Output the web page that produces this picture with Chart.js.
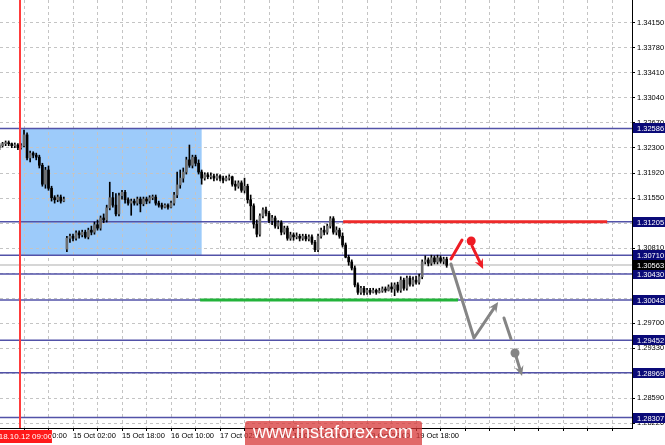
<!DOCTYPE html>
<html>
<head>
<meta charset="utf-8">
<script src="https://cdn.jsdelivr.net/npm/chart.js@4.4.1/dist/chart.umd.min.js"></script>
<style>
  html, body { margin: 0; padding: 0; background: #fff; }
  canvas { display: block; }
</style>
</head>
<body>
<canvas id="chart" width="665" height="445"></canvas>
<script>
// GBP/USD H1 bars, one per hour
const opens = [
  1.3230,1.3233,1.3236,1.3237,1.3236,1.3233,1.3234,1.3230,1.3233,1.3249,
  1.3215,1.3222,1.3219,1.3216,1.3204,1.3176,1.3197,1.3170,1.3156,1.3153,
  1.3157,1.3151,1.3080,1.3096,1.3099,1.3096,1.3104,1.3101,1.3105,1.3098,
  1.3108,1.3105,1.3116,1.3111,1.3126,1.3123,1.3141,1.3156,1.3145,1.3132,
  1.3159,1.3164,1.3153,1.3148,1.3151,1.3148,1.3154,1.3147,1.3154,1.3151,
  1.3156,1.3157,1.3148,1.3145,1.3142,1.3145,1.3142,1.3148,1.3160,1.3175,
  1.3185,1.3194,1.3212,1.3204,1.3216,1.3207,1.3194,1.3185,1.3190,1.3187,
  1.3188,1.3185,1.3188,1.3185,1.3182,1.3185,1.3187,1.3176,1.3173,1.3178,
  1.3167,1.3173,1.3153,1.3144,1.3117,1.3102,1.3129,1.3138,1.3133,1.3122,
  1.3126,1.3114,1.3119,1.3105,1.3111,1.3096,1.3101,1.3098,1.3099,1.3096,
  1.3099,1.3095,1.3098,1.3090,1.3079,1.3099,1.3108,1.3105,1.3114,1.3125,
  1.3105,1.3108,1.3099,1.3086,1.3068,1.3061,1.3052,1.3027,1.3016,1.3022,
  1.3016,1.3019,1.3016,1.3019,1.3016,1.3018,1.3021,1.3019,1.3024,1.3021,
  1.3027,1.3019,1.3034,1.3022,1.3037,1.3028,1.3034,1.3031,1.3039,1.3061,
  1.3064,1.3059,1.3067,1.3061,1.3067,1.3062,1.3065
];
const highs = [
  1.3236,1.3238,1.3240,1.3240,1.3237,1.3237,1.3236,1.3236,1.3256,1.3252,
  1.3225,1.3224,1.3222,1.3219,1.3207,1.3201,1.3203,1.3173,1.3159,1.3160,
  1.3160,1.3157,1.3099,1.3102,1.3102,1.3107,1.3107,1.3108,1.3108,1.3111,
  1.3114,1.3120,1.3123,1.3129,1.3132,1.3145,1.3179,1.3164,1.3162,1.3163,
  1.3167,1.3167,1.3156,1.3154,1.3154,1.3157,1.3157,1.3157,1.3157,1.3159,
  1.3160,1.3160,1.3151,1.3148,1.3147,1.3147,1.3151,1.3164,1.3194,1.3197,
  1.3200,1.3216,1.3234,1.3219,1.3219,1.3212,1.3197,1.3193,1.3193,1.3193,
  1.3191,1.3191,1.3190,1.3188,1.3188,1.3190,1.3188,1.3181,1.3181,1.3181,
  1.3185,1.3176,1.3160,1.3147,1.3123,1.3132,1.3141,1.3142,1.3136,1.3130,
  1.3129,1.3122,1.3122,1.3114,1.3114,1.3105,1.3104,1.3104,1.3102,1.3102,
  1.3102,1.3101,1.3101,1.3093,1.3102,1.3111,1.3114,1.3117,1.3128,1.3128,
  1.3113,1.3111,1.3104,1.3089,1.3071,1.3064,1.3055,1.3030,1.3025,1.3025,
  1.3022,1.3022,1.3022,1.3021,1.3022,1.3024,1.3024,1.3027,1.3030,1.3030,
  1.3031,1.3039,1.3037,1.3040,1.3040,1.3039,1.3040,1.3043,1.3064,1.3070,
  1.3067,1.3071,1.3070,1.3071,1.3070,1.3068,1.3068
];
const lows = [
  1.3227,1.3231,1.3233,1.3233,1.3230,1.3230,1.3227,1.3228,1.3231,1.3212,
  1.3209,1.3215,1.3212,1.3200,1.3173,1.3170,1.3167,1.3151,1.3148,1.3150,
  1.3148,1.3150,1.3076,1.3090,1.3092,1.3093,1.3096,1.3098,1.3096,1.3095,
  1.3101,1.3102,1.3108,1.3108,1.3119,1.3120,1.3138,1.3142,1.3129,1.3129,
  1.3154,1.3148,1.3145,1.3130,1.3145,1.3145,1.3135,1.3144,1.3147,1.3148,
  1.3153,1.3145,1.3142,1.3139,1.3141,1.3139,1.3141,1.3145,1.3156,1.3170,
  1.3179,1.3191,1.3201,1.3200,1.3203,1.3191,1.3176,1.3182,1.3184,1.3184,
  1.3181,1.3182,1.3181,1.3178,1.3181,1.3182,1.3173,1.3167,1.3170,1.3164,
  1.3163,1.3148,1.3123,1.3111,1.3098,1.3099,1.3126,1.3129,1.3119,1.3116,
  1.3111,1.3110,1.3101,1.3102,1.3093,1.3093,1.3093,1.3095,1.3092,1.3093,
  1.3092,1.3092,1.3087,1.3076,1.3076,1.3096,1.3101,1.3102,1.3111,1.3102,
  1.3101,1.3096,1.3083,1.3067,1.3056,1.3049,1.3024,1.3013,1.3013,1.3012,
  1.3013,1.3013,1.3015,1.3013,1.3015,1.3016,1.3016,1.3018,1.3016,1.3011,
  1.3016,1.3016,1.3019,1.3019,1.3025,1.3025,1.3028,1.3028,1.3036,1.3058,
  1.3055,1.3056,1.3058,1.3058,1.3059,1.3058,1.3053
];
const closes = [
  1.3233,1.3236,1.3237,1.3236,1.3233,1.3234,1.3230,1.3233,1.3249,1.3215,
  1.3222,1.3219,1.3216,1.3204,1.3176,1.3197,1.3170,1.3156,1.3153,1.3157,
  1.3151,1.3154,1.3096,1.3099,1.3096,1.3104,1.3101,1.3105,1.3098,1.3108,
  1.3105,1.3116,1.3111,1.3126,1.3123,1.3141,1.3156,1.3145,1.3132,1.3159,
  1.3164,1.3153,1.3148,1.3151,1.3148,1.3154,1.3147,1.3154,1.3151,1.3156,
  1.3157,1.3148,1.3145,1.3142,1.3145,1.3142,1.3148,1.3160,1.3175,1.3185,
  1.3194,1.3212,1.3204,1.3216,1.3207,1.3194,1.3185,1.3190,1.3187,1.3188,
  1.3185,1.3188,1.3185,1.3182,1.3185,1.3187,1.3176,1.3173,1.3178,1.3167,
  1.3173,1.3153,1.3144,1.3117,1.3102,1.3129,1.3138,1.3133,1.3122,1.3126,
  1.3114,1.3119,1.3105,1.3111,1.3096,1.3101,1.3098,1.3099,1.3096,1.3099,
  1.3095,1.3098,1.3090,1.3079,1.3099,1.3108,1.3105,1.3114,1.3125,1.3105,
  1.3108,1.3099,1.3086,1.3068,1.3061,1.3052,1.3027,1.3016,1.3022,1.3016,
  1.3019,1.3016,1.3019,1.3016,1.3018,1.3021,1.3019,1.3024,1.3021,1.3027,
  1.3019,1.3034,1.3022,1.3037,1.3028,1.3034,1.3031,1.3039,1.3061,1.3064,
  1.3059,1.3067,1.3061,1.3067,1.3062,1.3065,1.3056
];

const priceTicks = [1.34150, 1.33780, 1.33410, 1.33040, 1.32670, 1.32300, 1.31920, 1.31550,
  1.31180, 1.30810, 1.30440, 1.30070, 1.29700, 1.29330, 1.28960, 1.28590, 1.28220];
// a label every 16 bars, starting at bar 8
const timeLabels = ["12 Oct 10:00", "15 Oct 02:00", "15 Oct 18:00", "16 Oct 10:00",
  "17 Oct 02:00", "17 Oct 18:00", "18 Oct 10:00", "19 Oct 02:00", "19 Oct 18:00"];
const levels = [1.32586, 1.31205, 1.30710, 1.30430, 1.30048, 1.29452, 1.28969, 1.28307];
const lastPrice = 1.30563;
const markerBar = 7;            // 2018.10.12 09:00
const markerText = "2018.10.12 09:00";

// zone and highlighted levels, in bar / price units
const zone = { from: 7, to: 66, top: 1.32586, bottom: 1.30710 };
const redLevel = { from: 112.2, to: 198.4, price: 1.31205 };
const greenLevel = { from: 65.5, to: 149.7, price: 1.30048 };

// forecast arrows, [bar, price]
const redStroke = [[147.4, 1.30653], [151.0, 1.30934]];
const redDot = [154.0, 1.30919];
const redArrow = [[154.3, 1.30845], [157.9, 1.30505]];
const grayArrow = [[147.4, 1.30579], [154.9, 1.29484], [162.8, 1.30016]];
const grayStroke = [[164.7, 1.29780], [167.0, 1.29469]];
const grayDot = [168.3, 1.29262];
const grayArrow2 = [[168.7, 1.29202], [170.6, 1.28921]];

const X_MIN = 0.163, X_MAX = 206.5;
const Y_MIN = 1.28152, Y_MAX = 1.34486;

const FONT = '"Liberation Sans", Arial, sans-serif';
const LEVEL_COLOR = "#5252a8";
const BADGE_COLOR = "#0a0a78";

const bars = opens.map((o, i) => i);

function levelLine(price, color, width, from, to, order) {
  return {
    type: "line",
    data: [{ x: from, y: price }, { x: to, y: price }],
    borderColor: color,
    borderWidth: width,
    pointRadius: 0,
    order: order,
  };
}

function px(chart, p) {
  return [chart.scales.x.getPixelForValue(p[0]), chart.scales.y.getPixelForValue(p[1])];
}

function strokePath(ctx, pts, color, width) {
  ctx.strokeStyle = color;
  ctx.lineWidth = width;
  ctx.lineCap = "round";
  ctx.lineJoin = "round";
  ctx.beginPath();
  pts.forEach((p, i) => (i ? ctx.lineTo(p[0], p[1]) : ctx.moveTo(p[0], p[1])));
  ctx.stroke();
}

function arrowPath(ctx, pts, color, width) {
  const a = pts[pts.length - 2], b = pts[pts.length - 1];
  const ang = Math.atan2(b[1] - a[1], b[0] - a[0]);
  const len = 11;
  const shaft = pts.slice(0, -1).concat([[b[0] - 7 * Math.cos(ang), b[1] - 7 * Math.sin(ang)]]);
  strokePath(ctx, shaft, color, width);
  ctx.fillStyle = color;
  ctx.beginPath();
  ctx.moveTo(b[0], b[1]);
  ctx.lineTo(b[0] - len * Math.cos(ang - 0.42), b[1] - len * Math.sin(ang - 0.42));
  ctx.lineTo(b[0] - len * 0.6 * Math.cos(ang), b[1] - len * 0.6 * Math.sin(ang));
  ctx.lineTo(b[0] - len * Math.cos(ang + 0.42), b[1] - len * Math.sin(ang + 0.42));
  ctx.closePath();
  ctx.fill();
}

function dot(ctx, p, color) {
  ctx.fillStyle = color;
  ctx.beginPath();
  ctx.arc(p[0], p[1], 4.5, 0, Math.PI * 2);
  ctx.fill();
}

function noPadding(s) {
  s.paddingLeft = 0;
  s.paddingRight = 0;
  s.paddingTop = 0;
  s.paddingBottom = 0;
}

const decorations = {
  id: "decorations",
  beforeDraw(chart) {
    const { ctx } = chart;
    const x0 = chart.scales.x.getPixelForValue(zone.from);
    const x1 = chart.scales.x.getPixelForValue(zone.to);
    const y0 = chart.scales.y.getPixelForValue(zone.top);
    const y1 = chart.scales.y.getPixelForValue(zone.bottom);
    ctx.save();
    ctx.fillStyle = "#9dcbfa";
    ctx.fillRect(x0, y0, x1 - x0, y1 - y0);
    ctx.restore();
  },
  afterDatasetsDraw(chart) {
    const { ctx, chartArea } = chart;
    ctx.save();
    const mx = 2 * Math.round(chart.scales.x.getPixelForValue(markerBar) / 2);
    ctx.strokeStyle = "#ff3c3c";
    ctx.lineWidth = 2;
    ctx.beginPath();
    ctx.moveTo(mx, 0);
    ctx.lineTo(mx, chartArea.bottom);
    ctx.stroke();

    strokePath(ctx, redStroke.map(p => px(chart, p)), "#ee1c24", 3);
    dot(ctx, px(chart, redDot), "#ee1c24");
    arrowPath(ctx, redArrow.map(p => px(chart, p)), "#ee1c24", 3);

    arrowPath(ctx, grayArrow.map(p => px(chart, p)), "#858585", 3);
    strokePath(ctx, grayStroke.map(p => px(chart, p)), "#858585", 3);
    dot(ctx, px(chart, grayDot), "#858585");
    arrowPath(ctx, grayArrow2.map(p => px(chart, p)), "#858585", 3);
    ctx.restore();
  },
  afterDraw(chart) {
    const { ctx, chartArea } = chart;
    const ys = chart.scales.y;
    ctx.save();
    ctx.font = "7.5px " + FONT;
    ctx.textBaseline = "middle";
    ctx.textAlign = "left";
    const badge = (price, bg) => {
      const y = ys.getPixelForValue(price);
      ctx.fillStyle = bg;
      ctx.fillRect(chartArea.right + 1, Math.round(y) - 5, 40, 10);
      ctx.fillStyle = "#fff";
      ctx.fillText(price.toFixed(5), chartArea.right + 5, Math.round(y) + 0.5);
    };
    levels.forEach(v => badge(v, BADGE_COLOR));
    badge(lastPrice, "#000");

    // time label of the vertical marker
    const mx = chart.scales.x.getPixelForValue(markerBar);
    ctx.fillStyle = "#ff1a1a";
    ctx.fillRect(mx - 31, chartArea.bottom + 2, 62, 13);
    ctx.fillStyle = "#fff";
    ctx.textAlign = "center";
    ctx.font = "8px " + FONT;
    ctx.fillText(markerText, mx, chartArea.bottom + 9);

    // watermark
    ctx.fillStyle = "rgba(214, 52, 52, 0.74)";
    ctx.beginPath();
    ctx.roundRect(245, 421, 177, 30, 3);
    ctx.fill();
    ctx.fillStyle = "#fff";
    ctx.textAlign = "left";
    ctx.textBaseline = "alphabetic";
    ctx.font = "18px " + FONT;
    ctx.fillText("www.instaforex.com", 253, 438);
    ctx.restore();
  },
};

new Chart(document.getElementById("chart"), {
  data: {
    datasets: [
      levelLine(lastPrice, "#d6d6d6", 2, X_MIN, X_MAX, 4),
      ...levels.map(v => levelLine(v, LEVEL_COLOR, 1.5, X_MIN, X_MAX, 3)),
      levelLine(redLevel.price, "#ee2a2a", 3, redLevel.from, redLevel.to, 2),
      levelLine(greenLevel.price, "#22b33a", 3, greenLevel.from, greenLevel.to, 2),
      {
        type: "bar",
        data: bars.map(i => ({ x: i, y: [lows[i], highs[i]] })),
        backgroundColor: "#000",
        barThickness: 1,
        grouped: false,
        order: 1,
      },
      {
        type: "bar",
        data: bars.map(i => ({ x: i, y: [opens[i], closes[i]] })),
        backgroundColor: bars.map(i => (closes[i] > opens[i] ? "#6e6e6e" : "#000")),
        barThickness: 2,
        minBarLength: 1,
        grouped: false,
        order: 0,
      },
    ],
  },
  options: {
    responsive: false,
    animation: false,
    events: [],
    layout: { padding: 0 },
    plugins: { legend: { display: false }, tooltip: { enabled: false } },
    scales: {
      x: {
        type: "linear",
        offset: false,
        min: X_MIN,
        max: X_MAX,
        afterBuildTicks: s => {
          const t = [];
          for (let v = 0; v <= 200; v += 8) t.push({ value: v });
          s.ticks = t;
        },
        afterFit: s => { s.height = 17; noPadding(s); },
        grid: { offset: false, color: "#c4c4c4", tickLength: 3, tickColor: "#000" },
        border: { color: "#000", width: 1, dash: [3, 3] },
        ticks: {
          autoSkip: false,
          maxRotation: 0,
          align: "start",
          padding: 0,
          color: "#000",
          font: { family: FONT, size: 7.5 },
          callback: v => {
            const k = (v - 8) / 16;
            return Number.isInteger(k) && k >= 0 && k < timeLabels.length ? timeLabels[k] : "";
          },
        },
      },
      y: {
        type: "linear",
        position: "right",
        min: Y_MIN,
        max: Y_MAX,
        afterBuildTicks: s => { s.ticks = priceTicks.map(v => ({ value: v })); },
        afterFit: s => { s.width = 33; noPadding(s); },
        grid: { color: "#c4c4c4", tickLength: 3, tickColor: "#000" },
        border: { color: "#000", width: 1, dash: [3, 3] },
        ticks: {
          padding: 2,
          color: "#000",
          font: { family: FONT, size: 7.5 },
          callback: v => v.toFixed(5),
        },
      },
    },
  },
  plugins: [decorations],
});
</script>
</body>
</html>
